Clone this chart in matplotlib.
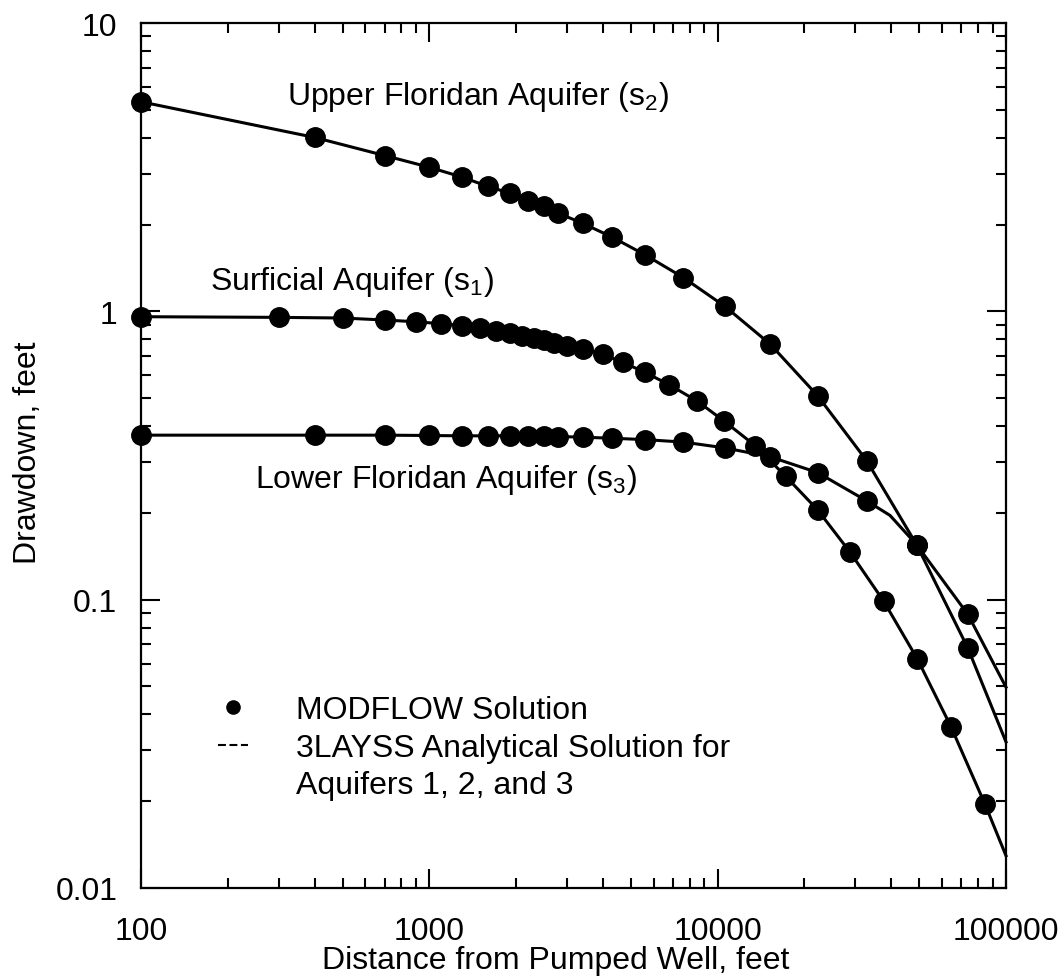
import matplotlib
matplotlib.use('Agg')
import matplotlib.pyplot as plt
from matplotlib.lines import Line2D
from matplotlib.ticker import LogLocator, NullFormatter, FixedLocator, FixedFormatter

plt.rcParams['font.family'] = ['Liberation Sans', 'DejaVu Sans']
plt.rcParams['mathtext.fontset'] = 'custom'
plt.rcParams['mathtext.rm'] = 'Liberation Sans'

# MODFLOW solution points (distance, ft -> drawdown, ft)
upper_x = [100, 400, 700, 1000, 1300, 1600, 1900, 2200, 2500, 2800, 3400, 4300,
           5600, 7600, 10600, 15200, 22200, 32900, 49000, 73700]
upper_y = [5.33, 4.01, 3.47, 3.16, 2.92, 2.71, 2.57, 2.41, 2.31, 2.19, 2.02, 1.81,
           1.57, 1.31, 1.04, 0.77, 0.51, 0.303, 0.155, 0.068]

surf_x = [100, 300, 500, 700, 900, 1100, 1300, 1500, 1700, 1900, 2100, 2300, 2500,
          2700, 3000, 3400, 4000, 4700, 5600, 6800, 8500, 10500, 13500, 17200,
          22200, 28800, 37600, 49300, 64400, 84600]
surf_y = [0.958, 0.953, 0.948, 0.933, 0.92, 0.906, 0.892, 0.877, 0.856, 0.84, 0.823,
          0.809, 0.793, 0.778, 0.759, 0.743, 0.709, 0.665, 0.614, 0.556, 0.488,
          0.417, 0.342, 0.268, 0.205, 0.146, 0.099, 0.0622, 0.0363, 0.0195]

lower_x = upper_x
lower_y = [0.372, 0.372, 0.372, 0.371, 0.370, 0.370, 0.370, 0.370, 0.369, 0.368,
           0.366, 0.363, 0.359, 0.352, 0.336, 0.313, 0.276, 0.220, 0.155, 0.089]

# 3LAYSS analytical curves
upper_line_x = upper_x + [100000]
upper_line_y = upper_y + [0.0321]
surf_line_x = surf_x + [100000]
surf_line_y = surf_y + [0.01294]
lower_line_x = lower_x[:18] + [39600] + lower_x[18:] + [100000]
lower_line_y = lower_y[:18] + [0.196] + lower_y[18:] + [0.0497]

x_ticks = [100, 1000, 10000, 100000]
x_labels = ['100', '1000', '10000', '100000']
y_ticks = [0.01, 0.1, 1, 10]
y_labels = ['0.01', '0.1', '1', '10']

fs = 23

fig = plt.figure(figsize=(10.63, 9.79), dpi=100)
ax = fig.add_axes([141/1063, 1 - 889/979, 865/1063, 865/979])

for lx, ly in [(upper_line_x, upper_line_y), (surf_line_x, surf_line_y), (lower_line_x, lower_line_y)]:
    ax.plot(lx, ly, color='k', lw=2.2, zorder=2, clip_on=False)
for px, py in [(upper_x, upper_y), (surf_x, surf_y), (lower_x, lower_y)]:
    ax.plot(px, py, 'o', color='k', ms=14, zorder=3, clip_on=False)

ax.set_xscale('log')
ax.set_yscale('log')
ax.set_xlim(100, 100000)
ax.set_ylim(0.01, 10)

ax.xaxis.set_major_locator(FixedLocator(x_ticks))
ax.xaxis.set_major_formatter(FixedFormatter(x_labels))
ax.yaxis.set_major_locator(FixedLocator(y_ticks))
ax.yaxis.set_major_formatter(FixedFormatter(y_labels))
ax.xaxis.set_minor_locator(LogLocator(base=10, subs=range(2, 10)))
ax.yaxis.set_minor_locator(LogLocator(base=10, subs=range(2, 10)))
ax.xaxis.set_minor_formatter(NullFormatter())
ax.yaxis.set_minor_formatter(NullFormatter())

ax.tick_params(which='both', direction='in', top=True, right=True, width=1.5, labelsize=fs)
ax.tick_params(which='major', length=14)
ax.tick_params(which='minor', length=7)
ax.tick_params(axis='x', which='major', pad=20.5)
ax.tick_params(axis='y', which='major', pad=17)
for s in ax.spines.values():
    s.set_linewidth(1.6)

ax.set_xlabel('Distance from Pumped Well, feet', fontsize=fs, labelpad=-1)
ax.set_ylabel('Drawdown, feet', fontsize=fs, labelpad=9)
ax.xaxis.label.set_x(0.4798)
ax.yaxis.label.set_y(0.5046)

ax.text(321, 5.24, 'Upper Floridan Aquifer ($\\mathregular{s_2}$)', fontsize=fs, va='baseline')
ax.text(173, 1.195, 'Surficial Aquifer ($\\mathregular{s_1}$)', fontsize=fs, va='baseline')
ax.text(249, 0.246, 'Lower Floridan Aquifer ($\\mathregular{s_3}$)', fontsize=fs, va='baseline')

handles = [Line2D([], [], ls='none', marker='o', ms=9.5, color='k'),
           Line2D([], [], ls=(0, (3.8, 1.7)), lw=1.5, color='k'),
           Line2D([], [], ls='none')]
labels = ['MODFLOW Solution', '3LAYSS Analytical Solution for', 'Aquifers 1, 2, and 3']
ax.legend(handles, labels, loc='upper left', bbox_to_anchor=(0.089, 0.223),
          frameon=False, fontsize=fs, handlelength=0.94, handletextpad=1.5,
          labelspacing=0.24, borderpad=0, borderaxespad=0)

plt.savefig('out.png', dpi=100)
